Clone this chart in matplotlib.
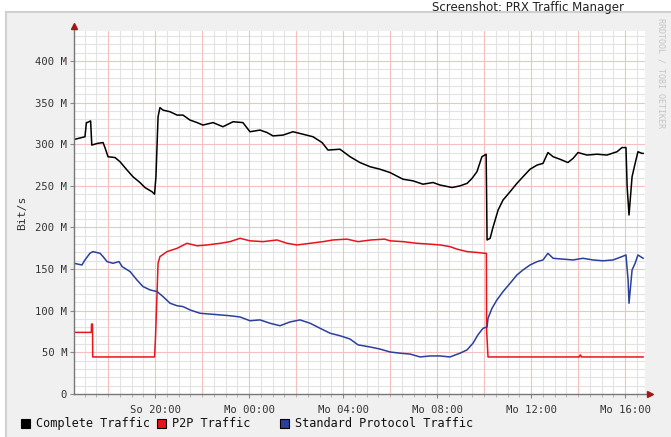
import matplotlib
matplotlib.use("Agg")
import matplotlib.pyplot as plt
from matplotlib.patches import Rectangle
import numpy as np

# ---------------- data (hours since Sunday 16:00, values in Mbit/s) ----------------
total_t = [0.55, 0.60, 1.02, 1.08, 1.11, 1.26, 1.31, 1.55, 1.79, 1.87, 2.00, 2.30, 2.51,
           2.81, 3.06, 3.36, 3.57, 3.87, 3.98, 4.04, 4.13, 4.21, 4.34, 4.64, 4.94, 5.19,
           5.49, 5.79, 6.04, 6.47, 6.89, 7.32, 7.74, 8.04, 8.47, 8.77, 9.02, 9.45, 9.87,
           10.30, 10.72, 11.11, 11.36, 11.87, 12.30, 12.72, 13.15, 13.57, 14.00, 14.55,
           14.98, 15.40, 15.83, 16.13, 16.64, 16.98, 17.28, 17.49, 17.70, 17.91, 18.09,
           18.13, 18.26, 18.38, 18.60, 18.81, 19.11, 19.40, 19.66, 19.96, 20.26, 20.51,
           20.72, 20.94, 21.23, 21.57, 21.79, 22.00, 22.38, 22.81, 23.23, 23.66, 23.87,
           24.04, 24.09, 24.17, 24.30, 24.43, 24.55, 24.72, 24.77]
total_v = [306, 306, 309, 326, 326, 328, 299, 301, 302, 296, 285, 284, 279,
           269, 261, 254, 248, 243, 240, 261, 333, 344, 341, 339, 335, 335,
           329, 326, 323, 326, 321, 327, 326, 315, 317, 314, 310, 311, 315,
           312, 309, 302, 293, 294, 285, 278, 273, 270, 266, 258,
           256, 252, 254, 251, 248, 250, 253, 259, 267, 285, 288,
           185, 187, 200, 221, 233, 243, 253, 261, 270, 275, 277,
           290, 285, 282, 278, 283, 290, 287, 288, 287, 291, 296,
           296, 249, 215, 261, 277, 291, 289, 289]

p2p_t = [0.55, 1.29, 1.30, 1.34, 1.35, 3.98, 4.02, 4.13, 4.21, 4.51, 4.94, 5.36, 5.79,
         6.21, 6.77, 7.19, 7.62, 8.04, 8.60, 9.19, 9.62, 10.04, 10.60, 11.15, 11.57,
         12.17, 12.64, 13.19, 13.77, 14.00, 14.55, 15.15, 15.70, 16.13, 16.55, 16.85,
         17.28, 17.70, 18.04, 18.10, 18.11, 18.17, 22.05, 22.10, 22.15, 24.77]
p2p_v = [74, 74, 84, 84, 44.5, 44.5, 67, 157, 165, 171, 175, 181, 178,
         179, 181, 183, 187, 184, 183, 185, 181, 179, 181, 183, 185,
         186, 183, 185, 186, 184, 183, 181, 180, 179, 177, 174,
         171, 170, 169, 169, 77, 44.5, 44.5, 47, 44.5, 44.5]

std_t = [0.55, 0.89, 1.02, 1.23, 1.36, 1.66, 1.79, 1.96, 2.21, 2.47, 2.60, 2.94, 3.23,
         3.49, 3.79, 4.09, 4.34, 4.64, 4.94, 5.19, 5.49, 5.91, 6.34, 6.77, 7.19, 7.62,
         8.04, 8.47, 8.89, 9.32, 9.74, 10.17, 10.60, 11.02, 11.45, 11.87, 12.30, 12.64,
         13.15, 13.57, 14.00, 14.43, 14.85, 15.28, 15.70, 16.13, 16.55, 16.98, 17.28,
         17.53, 17.74, 17.96, 18.13, 18.17, 18.34, 18.55, 18.81, 19.11, 19.40, 19.66,
         19.96, 20.26, 20.51, 20.72, 20.94, 21.36, 21.79, 22.21, 22.64, 23.06, 23.49,
         23.87, 24.04, 24.13, 24.17, 24.30, 24.43, 24.55, 24.77]
std_v = [157, 155, 161, 169, 171, 169, 165, 159, 157, 159, 153, 147, 137,
         129, 125, 123, 117, 109, 106, 105, 101, 97, 96, 95, 94, 92.5,
         88, 89, 85, 82, 86.5, 89, 85, 79, 73, 70, 66, 59,
         56.5, 54, 50.5, 49, 48, 44.5, 45.7, 45.7, 44.5, 49, 53,
         61, 71, 79, 80.5, 91, 103, 113, 123, 133, 143, 149,
         155, 159, 161, 169, 163, 162, 161, 163, 161, 160, 161,
         165, 167, 137, 109, 149, 157, 167, 163]

x_tick_hours = [4, 8, 12, 16, 20, 24]
x_tick_labels = ["So 20:00", "Mo 00:00", "Mo 04:00", "Mo 08:00", "Mo 12:00", "Mo 16:00"]
y_tick_values = [0, 50, 100, 150, 200, 250, 300, 350, 400]
y_tick_labels = ["0", "50 M", "100 M", "150 M", "200 M", "250 M", "300 M", "350 M", "400 M"]
series_names = ["Complete Traffic", "P2P Traffic", "Standard Protocol Traffic"]
series_colors = ["#000000", "#e8141c", "#2b3f9c"]

# ---------------- figure ----------------
W, H = 671, 437
fig = plt.figure(figsize=(W / 100, H / 100), dpi=100)
fig.patch.set_facecolor("white")
fig.patches.append(Rectangle((5.5 / W, -0.01), 1.0, 1 - 12 / H + 0.01, transform=fig.transFigure,
                             facecolor="#f0f0f0", edgecolor="#d0d0d0", lw=1.5, zorder=-10))

mono = "DejaVu Sans Mono"
x0, x1 = 0.553, 24.85
ax = fig.add_axes([74 / W, 1 - 394 / H, (645 - 74) / W, (394 - 31) / H])
ax.set_zorder(2)
ax.set_facecolor("white")
ax.set_xlim(x0, x1)
ax.set_ylim(0, 436)

# grid
for v in np.arange(10, 436, 10):
    if v % 50:
        ax.axhline(v, color="#e3e3e3", lw=0.8, zorder=1)
for t in np.arange(1.0, x1, 0.5):
    if t % 2:
        ax.axvline(t, color="#e3e3e3", lw=0.8, zorder=1)
for v in np.arange(50, 436, 50):
    ax.axhline(v, color="#f7c0c0", lw=0.8, zorder=2)
for t in np.arange(2, x1, 2):
    ax.axvline(t, color="#f7c0c0", lw=0.8, zorder=2)

# series
ax.plot(total_t, total_v, color=series_colors[0], lw=1.1, zorder=5)
ax.plot(p2p_t, p2p_v, color=series_colors[1], lw=1.1, zorder=4)
ax.plot(std_t, std_v, color=series_colors[2], lw=1.1, zorder=4)

# axes styling
for s in ["top", "right", "left", "bottom"]:
    ax.spines[s].set_visible(False)
ax.set_yticks(y_tick_values)
ax.set_yticklabels(y_tick_labels, fontfamily=mono, fontsize=7.6, color="#333333")
ax.set_xticks(x_tick_hours)
ax.set_xticklabels(x_tick_labels, fontfamily=mono, fontsize=7.6, color="#333333")
ax.set_xticks(np.arange(1.0, x1, 0.5), minor=True)
ax.tick_params(axis="y", which="major", length=3, width=0.8, color="#888888", pad=2)
ax.tick_params(axis="x", which="major", length=3, width=0.8, color="#888888", pad=5)
ax.tick_params(axis="x", which="minor", length=2, width=0.6, color="#aaaaaa")
ax.set_ylabel("Bit/s", fontfamily=mono, fontsize=8.2, color="#333333", labelpad=6)

# axis lines with arrow heads
ax.plot([x0, x0], [0, 442], color="#777777", lw=1.0, clip_on=False, zorder=6)
ax.plot([x0], [442], marker="^", ms=4, color="#a01818", clip_on=False, zorder=7)
ax.plot([x0, 24.95], [0, 0], color="#777777", lw=1.0, clip_on=False, zorder=6)
ax.plot([25.05], [0], marker=">", ms=4, color="#a01818", clip_on=False, zorder=7)

# watermark and header text
fig.text(661 / W, 1 - 18 / H, "RRDTOOL / TOBI OETIKER", rotation=270, ha="center", va="top",
         fontfamily=mono, fontsize=6, color="#c4c4c4")
fig.text(432 / W, 1 - 1 / H, "Screenshot: PRX Traffic Manager", ha="left", va="top",
         fontsize=8.5, color="#222222")

# legend
leg_sq_x = [21, 157, 280]
for px, name, col in zip(leg_sq_x, series_names, series_colors):
    fig.patches.append(Rectangle((px / W, 1 - 428 / H), 9 / W, 9 / H, transform=fig.transFigure,
                                 facecolor=col, edgecolor="#000000", lw=0.8, zorder=3))
    fig.text((px + 15) / W, 1 - 423.5 / H, name, ha="left", va="center",
             fontfamily=mono, fontsize=8.6, color="#111111")

fig.savefig("out.png", dpi=100)
